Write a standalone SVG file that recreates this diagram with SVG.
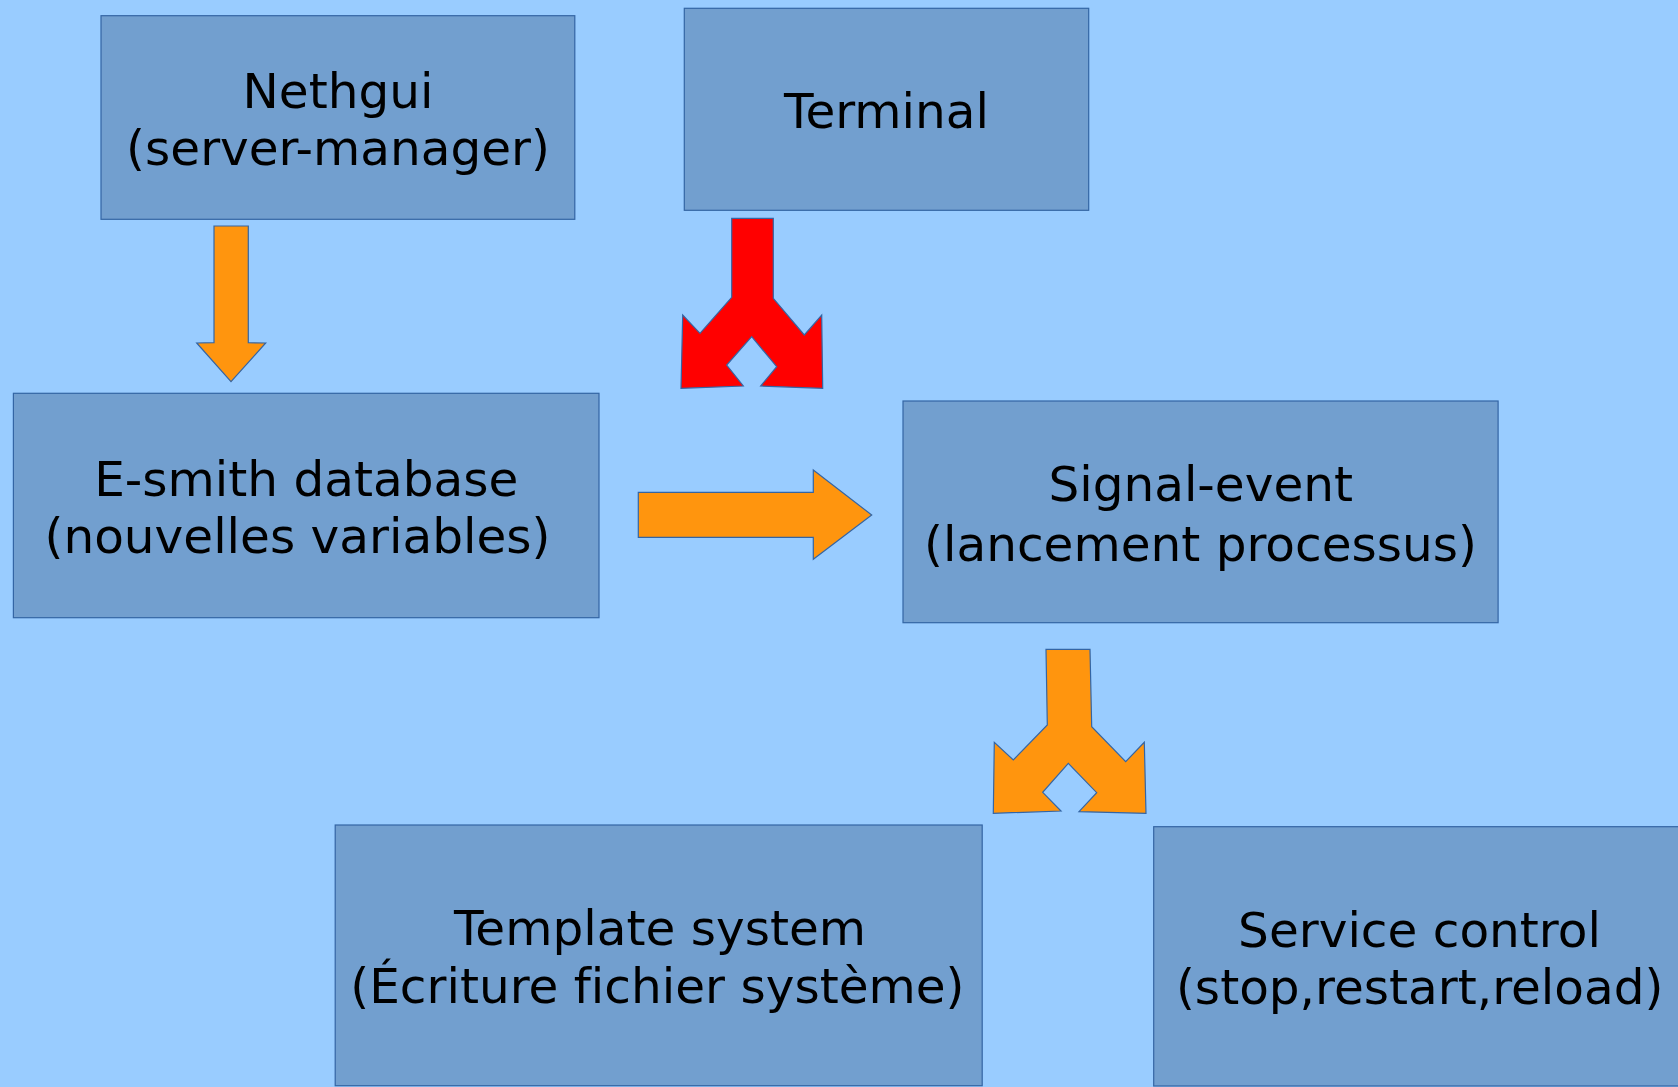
<svg xmlns="http://www.w3.org/2000/svg" width="1678" height="1087" viewBox="0 0 1678 1087">
<style>
.box{fill:#729fcf;stroke:#3465a4;stroke-width:1.2}
.lbl{font-family:"DejaVu Sans",Verdana,sans-serif;font-size:48.5px;fill:#000;text-anchor:middle;font-variant-ligatures:none;font-feature-settings:"liga" 0}
.orange{fill:#ff950e;stroke:#3465a4;stroke-width:1.2;stroke-linejoin:miter}
.red{fill:#ff0000;stroke:#3465a4;stroke-width:1.2}
</style>
<rect x="0" y="0" width="1678" height="1087" fill="#99ccff"/>
<g id="node-nethgui">
<rect class="box" x="101" y="15.7" width="473.8" height="203.6"/>
<text class="lbl" x="338" y="108.3">Nethgui</text>
<text class="lbl" x="338" y="165">(server-manager)</text>
</g>
<g id="node-terminal">
<rect class="box" x="684.3" y="8.3" width="404.4" height="202"/>
<text class="lbl" x="886.5" y="128.3">Terminal</text>
</g>
<g id="node-esmith">
<rect class="box" x="13.4" y="393.3" width="585.6" height="224.4"/>
<text class="lbl" x="306.3" y="495.7">E-smith database</text>
<text class="lbl" x="297.5" y="552.7">(nouvelles variables)</text>
</g>
<g id="node-signal">
<rect class="box" x="903" y="401" width="595.1" height="221.7"/>
<text class="lbl" x="1200.7" y="501">Signal-event</text>
<text class="lbl" x="1200.5" y="560.7">(lancement processus)</text>
</g>
<g id="node-template">
<rect class="box" x="335.2" y="825" width="647" height="260.7"/>
<text class="lbl" x="660" y="945">Template system</text>
<text class="lbl" x="657.4" y="1003.3">(Écriture fichier système)</text>
</g>
<g id="node-service">
<rect class="box" x="1153.7" y="826.7" width="531.6" height="259.3"/>
<text class="lbl" x="1419.5" y="946.7">Service control</text>
<text class="lbl" x="1419.7" y="1004.3">(stop,restart,reload)</text>
</g>
<g id="connectors">
<polygon class="orange" points="214,226 248.3,226 248.3,342.7 265.7,343 231,381.7 196.7,343 214,342.7"/>
<polygon class="orange" points="638.3,492.3 813.3,492.3 813.3,470 871.7,515 813.3,559.3 813.3,537.3 638.3,537.3"/>
<polygon class="red" points="731.7,218.3 773.3,218.3 773.3,298.3 804.3,335 821.7,315 822.7,388.3 760.7,386 776.7,366.7 751.7,336.7 726.7,365 743.3,386 681,388.3 682.7,315 700,333.3 731.7,297.3"/>
<polygon class="orange" points="1046,649.3 1090,649.3 1091.7,726.7 1125.7,761.7 1144.3,742.3 1146,813.3 1079,811.7 1096.7,792.7 1068.3,763.3 1042.7,792.3 1061,811 993.3,813.3 994.3,742.3 1013.3,760 1047.3,725"/>
</g>
</svg>
